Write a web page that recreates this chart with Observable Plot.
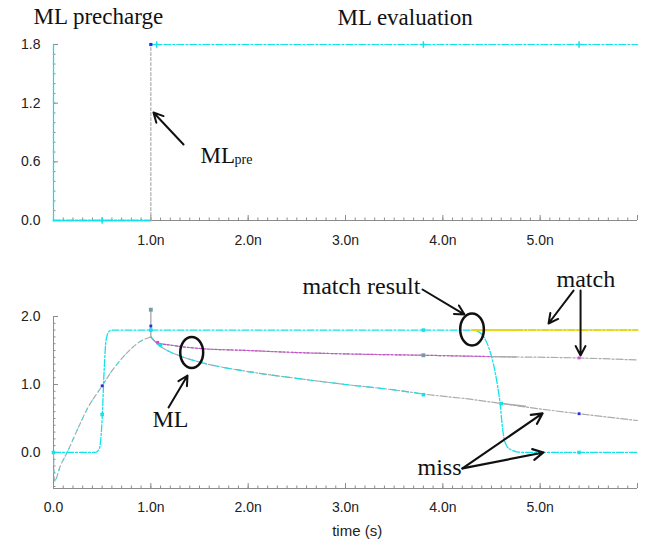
<!DOCTYPE html>
<html><head><meta charset="utf-8">
<script src="https://cdn.jsdelivr.net/npm/d3@7"></script>
<script src="https://cdn.jsdelivr.net/npm/@observablehq/plot@0.6"></script>
<style>body{margin:0;background:#fff;} #chart svg{display:block;}</style>
</head><body><div id="chart"></div>
<script>
// ---------- data (time in ns, voltage in V) ----------
const xMajor = [0, 1, 2, 3, 4, 5, 6];
const xLabelsTop = [1, 2, 3, 4, 5];
const xLabelsBottom = [0, 1, 2, 3, 4, 5];
const yLabelsTop = [0, 0.6, 1.2, 1.8];
const yLabelsBottom = [0, 1, 2];

// top panel: ML precharge signal
const preLowT = [0, 1.0];   const preLowV = [0, 0];
const preRiseT = [1.0, 1.0]; const preRiseV = [0, 1.8];
const preHighT = [1.0, 6.0]; const preHighV = [1.8, 1.8];
const preAxisT = [0, 0];    const preAxisV = [0, 1.8];
const preBlueT = [1.0]; const preBlueV = [1.8];
const preCyanT = [0.5, 1.06, 3.8, 5.4]; const preCyanV = [0, 1.8, 1.8, 1.8];

// bottom panel
const clkT = [0, 0.43, 0.47, 0.5, 0.52, 0.54, 0.57, 0.6, 4.3, 4.36, 4.42, 4.47, 4.52, 4.56, 4.59, 4.61, 4.63, 4.66, 4.7, 4.76, 4.85, 6.0];
const clkV = [0, 0, 0.05, 0.5, 1.2, 1.65, 1.78, 1.8, 1.8, 1.78, 1.7, 1.55, 1.3, 1.0, 0.7, 0.4, 0.2, 0.09, 0.04, 0.01, 0, 0];
const mlT = [0, 0.01, 0.07, 0.14, 0.25, 0.35, 0.5, 0.6, 0.7, 0.8, 0.9, 1.0];
const mlV = [0, -0.42, -0.2, 0, 0.35, 0.65, 0.98, 1.2, 1.38, 1.53, 1.64, 1.7];
const matchMlT = [1.0, 1.04, 1.08, 1.2, 1.5, 2.0, 2.5, 3.0, 3.8, 4.5, 5.4, 6.0];
const matchMlV = [1.7, 1.64, 1.61, 1.58, 1.53, 1.5, 1.47, 1.45, 1.43, 1.41, 1.39, 1.36];
const missMlT = [1.0, 1.04, 1.1, 1.3, 1.5, 2.0, 2.5, 3.0, 3.5, 3.8, 4.3, 4.6, 5.0, 5.4, 6.0];
const missMlV = [1.7, 1.63, 1.56, 1.42, 1.33, 1.19, 1.09, 1.0, 0.92, 0.86, 0.78, 0.72, 0.64, 0.57, 0.47];
const spikeT = [1.0, 1.0]; const spikeV = [1.7, 2.1];
const matchOutSolidT = [4.3, 4.75]; const matchOutSolidV = [1.8, 1.8];
const matchOutT = [4.75, 6.0]; const matchOutV = [1.8, 1.8];
const graySolidUpT = [4.5, 4.75]; const graySolidUpV = [1.41, 1.405];
const graySolidLoT = [4.6, 4.85]; const graySolidLoV = [0.72, 0.68];
const cyanMarkT = [0.5, 1.0, 1.1, 3.8, 3.8, 4.6, 5.4, 0];
const cyanMarkV = [0.56, 1.8, 1.58, 1.8, 0.85, 0.72, 0.0, 0];
const blueMarkT = [0.5, 1.0, 5.4]; const blueMarkV = [0.98, 1.86, 0.57];
const magMarkT = [1.07, 5.4]; const magMarkV = [1.62, 1.39];
const grayMarkT = [1.0, 3.8]; const grayMarkV = [2.1, 1.43];

// ---------- helpers ----------
const pts = (T, V) => T.map((t, i) => ({t, v: V[i]}));
const W = 651, ML = 53, MR = 14;
const CYAN = "#12e2ea", GRAY = "#ababab", MAG = "#d04ad6", YEL = "#e4da1c", BLUE = "#2a2ae0";
const AXIS = "#8c8c8c";
const DASHDOT = "7,2,2,2", DASH = "5,3", DOT = "2,2";
const SERIF = "Liberation Serif, Times New Roman, serif";

const ellipse = {draw(c, s) {
  const ry = Math.sqrt(s / Math.PI), rx = ry * 0.74, k = 0.5523;
  c.moveTo(rx, 0);
  c.bezierCurveTo(rx, ry * k, rx * k, ry, 0, ry);
  c.bezierCurveTo(-rx * k, ry, -rx, ry * k, -rx, 0);
  c.bezierCurveTo(-rx, -ry * k, -rx * k, -ry, 0, -ry);
  c.bezierCurveTo(rx * k, -ry, rx, -ry * k, rx, 0);
  c.closePath();
}};

const xMinor = d3.range(0, 60.5, 1).map(d => d / 10);
const fmtX = d => d === 0 ? "0.0" : d.toFixed(1) + "n";
const xPerPx = 6 / (W - ML - MR);

function axisMarks(yMin, yMax, plotH, yLabels, xLabels, xPad) {
  const yPerPx = (yMax - yMin) / plotH;
  const yMinor = d3.range(Math.ceil(yMin * 10 - 1e-6), Math.floor(yMax * 10 + 1e-6) + 1).map(d => d / 10);
  return [
    Plot.ruleY([yMin], {x1: 0, x2: 6, stroke: AXIS}),
    Plot.ruleX([0], {y1: yMin, y2: yMax, stroke: AXIS}),
    Plot.ruleX(xMinor, {x: d => d, y1: yMin, y2: yMin + 2.5 * yPerPx, stroke: AXIS}),
    Plot.ruleX(xMajor, {x: d => d, y1: yMin, y2: yMin + 5 * yPerPx, stroke: AXIS}),
    Plot.ruleY(yMinor, {y: d => d, x1: 0, x2: 2.5 * xPerPx, stroke: AXIS}),
    Plot.ruleY(yLabels, {y: d => d, x1: 0, x2: 5 * xPerPx, stroke: AXIS}),
    Plot.axisX(xLabels, {tickSize: 0, tickPadding: xPad, tickFormat: fmtX, anchor: "bottom", label: null}),
    Plot.axisY(yLabels, {tickSize: 0, tickPadding: 13, tickFormat: d => d.toFixed(1), anchor: "left", label: null})
  ];
}

const common = {
  width: W, marginLeft: ML, marginRight: MR,
  x: {domain: [0, 6], label: null},
  style: {fontFamily: "Liberation Sans, Arial, sans-serif", fontSize: "14px", color: "#222", background: "#fff"}
};

// ---------- top panel ----------
const topChart = Plot.plot({
  ...common,
  height: 250, marginTop: 44, marginBottom: 30,
  y: {domain: [0, 1.8], label: null},
  marks: [
    ...axisMarks(0, 1.8, 176, yLabelsTop, xLabelsTop, 15),
    Plot.line(pts(preAxisT, preAxisV), {x: "t", y: "v", stroke: CYAN, strokeWidth: 1.3, strokeDasharray: DASHDOT}),
    Plot.line(pts(preLowT, preLowV), {x: "t", y: "v", stroke: CYAN, strokeWidth: 2, strokeDasharray: DASHDOT}),
    Plot.line(pts(preRiseT, preRiseV), {x: "t", y: "v", stroke: GRAY, strokeWidth: 1.2, strokeDasharray: "3,2"}),
    Plot.line(pts(preHighT, preHighV), {x: "t", y: "v", stroke: CYAN, strokeWidth: 1.2, strokeDasharray: DASHDOT}),
    Plot.dot(pts(preBlueT, preBlueV), {x: "t", y: "v", r: 1.8, fill: BLUE, symbol: "square"}),
    Plot.dot(pts(preCyanT, preCyanV), {x: "t", y: "v", r: 2.2, stroke: CYAN, symbol: "plus"}),
    Plot.text(["ML precharge"], {x: -0.205, y: 2.08, textAnchor: "start", fontFamily: SERIF, fontSize: 23, fill: "#111"}),
    Plot.text(["ML evaluation"], {x: 2.918, y: 2.07, textAnchor: "start", fontFamily: SERIF, fontSize: 23, fill: "#111"}),
    Plot.arrow([0], {x1: 1.336, y1: 0.777, x2: 1.027, y2: 1.104, stroke: "#111", strokeWidth: 2, headLength: 8, headAngle: 55}),
    Plot.text(["ML"], {x: 1.51, y: 0.662, textAnchor: "start", fontFamily: SERIF, fontSize: 23, fill: "#111"}),
    Plot.text(["pre"], {x: 1.86, y: 0.626, textAnchor: "start", fontFamily: SERIF, fontSize: 14, fill: "#111"})
  ]
});

// ---------- bottom panel ----------
const bottomChart = Plot.plot({
  ...common,
  height: 297, marginTop: 66, marginBottom: 59,
  y: {domain: [-0.53, 2.0], label: null},
  marks: [
    ...axisMarks(-0.53, 2.0, 172, yLabelsBottom, xLabelsBottom, 14),
    Plot.text(["time (s)"], {x: 3.12, frameAnchor: "bottom", dy: 47, fontSize: 15, fill: "#222"}),
    // ML precharge / evaluation curves
    Plot.line(pts(mlT, mlV), {x: "t", y: "v", curve: "monotone-x", stroke: GRAY, strokeWidth: 1.2, strokeDasharray: DASH}),
    Plot.line(pts(mlT, mlV), {x: "t", y: "v", curve: "monotone-x", stroke: CYAN, strokeWidth: 1, strokeDasharray: "3,8", strokeDashoffset: 4, strokeOpacity: 0.8}),
    Plot.line(pts(matchMlT, matchMlV), {x: "t", y: "v", curve: "monotone-x", stroke: GRAY, strokeWidth: 1.2, strokeDasharray: DASHDOT}),
    Plot.line(pts(matchMlT.slice(0, 10), matchMlV.slice(0, 10)), {x: "t", y: "v", curve: "monotone-x", stroke: MAG, strokeWidth: 1.2, strokeDasharray: DOT, strokeDashoffset: 1}),
    Plot.line(pts(missMlT, missMlV), {x: "t", y: "v", curve: "monotone-x", stroke: GRAY, strokeWidth: 1.2, strokeDasharray: DASHDOT}),
    Plot.line(pts(missMlT.slice(0, 10), missMlV.slice(0, 10)), {x: "t", y: "v", curve: "monotone-x", stroke: CYAN, strokeWidth: 1.2, strokeDasharray: "6,6", strokeDashoffset: 3}),
    Plot.line(pts(graySolidUpT, graySolidUpV), {x: "t", y: "v", stroke: GRAY, strokeWidth: 1.4}),
    Plot.line(pts(graySolidLoT, graySolidLoV), {x: "t", y: "v", stroke: GRAY, strokeWidth: 1.4}),
    Plot.line(pts(spikeT, spikeV), {x: "t", y: "v", stroke: GRAY, strokeWidth: 1.4}),
    // control / match-out signal
    Plot.line(pts(clkT, clkV), {x: "t", y: "v", curve: "monotone-x", stroke: CYAN, strokeWidth: 1.3, strokeDasharray: DASHDOT}),
    Plot.line(pts(matchOutSolidT, matchOutSolidV), {x: "t", y: "v", stroke: YEL, strokeWidth: 2.4}),
    Plot.line(pts(matchOutT, matchOutV), {x: "t", y: "v", stroke: YEL, strokeWidth: 2, strokeDasharray: DASHDOT}),
    // probe markers
    Plot.dot(pts(cyanMarkT, cyanMarkV), {x: "t", y: "v", r: 2, fill: CYAN, symbol: "square"}),
    Plot.dot(pts(blueMarkT, blueMarkV), {x: "t", y: "v", r: 1.6, fill: BLUE, symbol: "square"}),
    Plot.dot(pts(magMarkT, magMarkV), {x: "t", y: "v", r: 1.6, fill: MAG, symbol: "square"}),
    Plot.dot(pts(grayMarkT, grayMarkV), {x: "t", y: "v", r: 2.2, fill: "#7a9aa8", symbol: "square"}),
    // annotations
    Plot.dot([0], {x: 1.42, y: 1.47, r: 15.5, symbol: ellipse, stroke: "#111", strokeWidth: 2.5, fill: "none"}),
    Plot.dot([0], {x: 4.30, y: 1.81, r: 16, symbol: ellipse, stroke: "#111", strokeWidth: 2.5, fill: "none"}),
    Plot.arrow([0], {x1: 1.182, y1: 0.662, x2: 1.377, y2: 1.132, stroke: "#111", strokeWidth: 2, headLength: 8, headAngle: 55}),
    Plot.arrow([0], {x1: 3.791, y1: 2.397, x2: 4.223, y2: 2.029, stroke: "#111", strokeWidth: 2, headLength: 8, headAngle: 55}),
    Plot.arrow([0], {x1: 5.343, y1: 2.382, x2: 5.086, y2: 1.897, stroke: "#111", strokeWidth: 2, headLength: 8, headAngle: 55}),
    Plot.arrow([0], {x1: 5.415, y1: 2.382, x2: 5.415, y2: 1.426, stroke: "#111", strokeWidth: 2, headLength: 8, headAngle: 55}),
    Plot.arrow([0], {x1: 4.202, y1: -0.235, x2: 5.024, y2: 0.574, stroke: "#111", strokeWidth: 2.2, headLength: 8, headAngle: 55}),
    Plot.arrow([0], {x1: 4.202, y1: -0.235, x2: 5.034, y2: 0.0, stroke: "#111", strokeWidth: 2.2, headLength: 8, headAngle: 55}),
    Plot.text(["ML"], {x: 1.017, y: 0.481, textAnchor: "start", fontFamily: SERIF, fontSize: 24, fill: "#111"}),
    Plot.text(["match result"], {x: 2.558, y: 2.451, textAnchor: "start", fontFamily: SERIF, fontSize: 24, fill: "#111"}),
    Plot.text(["match"], {x: 5.168, y: 2.54, textAnchor: "start", fontFamily: SERIF, fontSize: 24, fill: "#111"}),
    Plot.text(["miss"], {x: 3.74, y: -0.225, textAnchor: "start", fontFamily: SERIF, fontSize: 24, fill: "#111"})
  ]
});

const host = document.getElementById("chart");
host.appendChild(topChart);
host.appendChild(bottomChart);
</script>
</body></html>
